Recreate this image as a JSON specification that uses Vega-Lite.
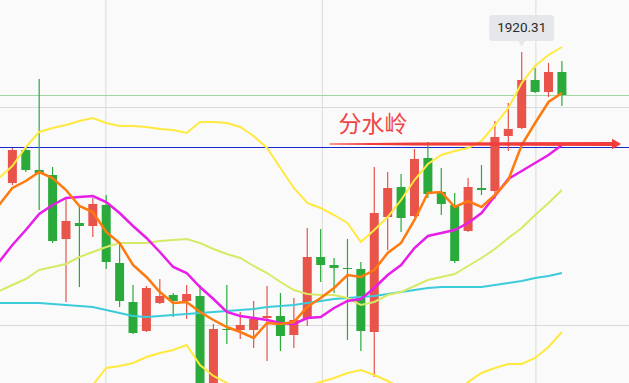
{
  "$schema": "https://vega.github.io/schema/vega-lite/v6.json",
  "width": 629,
  "height": 383,
  "autosize": "none",
  "padding": 0,
  "background": "#fafafa",
  "config": {"view": {"stroke": null}},
  "datasets": {
    "k": [
      {"i": -1, "m5": 1905.01, "m10": 1899.31, "m60": 1895.21, "bu": 1907.71, "bm": 1896.41, "bl": 1885.11},
      {"i": 0, "o": 1907.21, "h": 1910.71, "l": 1907.01, "c": 1910.51, "m5": 1906.71, "m10": 1901.01, "m60": 1895.21, "bu": 1908.91, "bm": 1897.01, "bl": 1885.11},
      {"i": 1, "o": 1910.51, "h": 1910.71, "l": 1908.31, "c": 1908.51, "m5": 1907.41, "m10": 1902.51, "m60": 1895.21, "bu": 1910.81, "bm": 1897.61, "bl": 1884.41},
      {"i": 2, "o": 1908.51, "h": 1917.61, "l": 1904.51, "c": 1908.21, "m5": 1908.31, "m10": 1904.11, "m60": 1895.21, "bu": 1912.31, "bm": 1898.51, "bl": 1884.71},
      {"i": 3, "o": 1908.01, "h": 1908.81, "l": 1901.21, "c": 1901.41, "m5": 1907.71, "m10": 1905.01, "m60": 1895.11, "bu": 1912.71, "bm": 1898.81, "bl": 1884.91},
      {"i": 4, "o": 1901.61, "h": 1905.61, "l": 1895.31, "c": 1903.41, "m5": 1906.51, "m10": 1905.71, "m60": 1895.01, "bu": 1913.01, "bm": 1899.11, "bl": 1885.21},
      {"i": 5, "o": 1903.21, "h": 1904.81, "l": 1896.81, "c": 1902.91, "m5": 1904.91, "m10": 1905.81, "m60": 1894.91, "bu": 1913.41, "bm": 1899.81, "bl": 1886.21},
      {"i": 6, "o": 1902.91, "h": 1905.71, "l": 1901.81, "c": 1905.11, "m5": 1904.31, "m10": 1905.91, "m60": 1894.81, "bu": 1913.71, "bm": 1900.31, "bl": 1887.01},
      {"i": 7, "o": 1905.01, "h": 1906.01, "l": 1898.61, "c": 1899.31, "m5": 1902.31, "m10": 1905.31, "m60": 1894.51, "bu": 1913.21, "bm": 1900.81, "bl": 1888.71},
      {"i": 8, "o": 1899.21, "h": 1901.21, "l": 1894.81, "c": 1895.41, "m5": 1901.21, "m10": 1904.21, "m60": 1894.21, "bu": 1912.91, "bm": 1901.21, "bl": 1888.91},
      {"i": 9, "o": 1895.31, "h": 1897.01, "l": 1892.11, "c": 1892.21, "m5": 1899.01, "m10": 1902.91, "m60": 1893.91, "bu": 1912.91, "bm": 1901.21, "bl": 1889.21},
      {"i": 10, "o": 1892.41, "h": 1896.91, "l": 1892.31, "c": 1896.71, "m5": 1897.81, "m10": 1901.71, "m60": 1893.81, "bu": 1912.81, "bm": 1901.21, "bl": 1889.81},
      {"i": 11, "o": 1895.21, "h": 1897.61, "l": 1895.11, "c": 1895.91, "m5": 1896.31, "m10": 1900.31, "m60": 1893.91, "bu": 1912.61, "bm": 1901.41, "bl": 1890.21},
      {"i": 12, "o": 1896.01, "h": 1896.21, "l": 1893.81, "c": 1895.41, "m5": 1895.21, "m10": 1898.81, "m60": 1894.01, "bu": 1912.51, "bm": 1901.51, "bl": 1890.51},
      {"i": 13, "o": 1895.41, "h": 1897.01, "l": 1893.61, "c": 1896.11, "m5": 1895.31, "m10": 1898.21, "m60": 1894.11, "bu": 1912.21, "bm": 1901.61, "bl": 1891.01},
      {"i": 14, "o": 1895.91, "h": 1897.01, "l": 1885.71, "c": 1886.31, "m5": 1894.31, "m10": 1896.81, "m60": 1894.21, "bu": 1913.31, "bm": 1901.21, "bl": 1889.01},
      {"i": 15, "o": 1886.01, "h": 1893.11, "l": 1885.51, "c": 1892.61, "m5": 1893.51, "m10": 1895.61, "m60": 1894.31, "bu": 1913.31, "bm": 1900.61, "bl": 1887.91},
      {"i": 16, "o": 1892.61, "h": 1897.01, "l": 1891.11, "c": 1892.51, "m5": 1892.81, "m10": 1894.31, "m60": 1894.41, "bu": 1913.21, "bm": 1900.11, "bl": 1887.21},
      {"i": 17, "o": 1892.51, "h": 1894.31, "l": 1891.61, "c": 1893.01, "m5": 1892.31, "m10": 1893.91, "m60": 1894.51, "bu": 1912.81, "bm": 1899.71, "bl": 1886.61},
      {"i": 18, "o": 1892.51, "h": 1895.41, "l": 1890.71, "c": 1893.61, "m5": 1891.71, "m10": 1893.71, "m60": 1894.61, "bu": 1911.91, "bm": 1898.91, "bl": 1885.91},
      {"i": 19, "o": 1893.71, "h": 1896.91, "l": 1889.41, "c": 1893.91, "m5": 1893.21, "m10": 1893.51, "m60": 1894.81, "bu": 1910.71, "bm": 1898.21, "bl": 1885.71},
      {"i": 20, "o": 1893.91, "h": 1896.21, "l": 1890.41, "c": 1891.91, "m5": 1893.11, "m10": 1893.21, "m60": 1894.91, "bu": 1908.71, "bm": 1897.31, "bl": 1885.91},
      {"i": 21, "o": 1892.01, "h": 1895.71, "l": 1890.71, "c": 1893.51, "m5": 1893.31, "m10": 1893.11, "m60": 1895.01, "bu": 1906.71, "bm": 1896.51, "bl": 1886.31},
      {"i": 22, "o": 1893.61, "h": 1902.71, "l": 1892.91, "c": 1899.81, "m5": 1894.81, "m10": 1893.71, "m60": 1895.21, "bu": 1905.21, "bm": 1896.11, "bl": 1886.91},
      {"i": 23, "o": 1899.81, "h": 1902.61, "l": 1897.31, "c": 1899.01, "m5": 1895.71, "m10": 1893.81, "m60": 1895.41, "bu": 1904.71, "bm": 1896.01, "bl": 1887.31},
      {"i": 24, "o": 1899.01, "h": 1899.71, "l": 1896.21, "c": 1898.71, "m5": 1896.71, "m10": 1894.71, "m60": 1895.61, "bu": 1904.01, "bm": 1896.01, "bl": 1887.71},
      {"i": 25, "o": 1898.71, "h": 1901.61, "l": 1891.51, "c": 1898.61, "m5": 1898.01, "m10": 1895.41, "m60": 1895.71, "bu": 1903.21, "bm": 1895.71, "bl": 1888.21},
      {"i": 26, "o": 1898.61, "h": 1899.31, "l": 1890.41, "c": 1892.41, "m5": 1897.81, "m10": 1895.61, "m60": 1895.81, "bu": 1901.31, "bm": 1895.01, "bl": 1888.51},
      {"i": 27, "o": 1892.31, "h": 1908.81, "l": 1887.81, "c": 1904.21, "m5": 1898.51, "m10": 1896.71, "m60": 1895.91, "bu": 1902.51, "bm": 1895.31, "bl": 1888.01},
      {"i": 28, "o": 1903.81, "h": 1908.31, "l": 1900.51, "c": 1906.71, "m5": 1900.21, "m10": 1898.01, "m60": 1896.11, "bu": 1903.81, "bm": 1896.01, "bl": 1887.41},
      {"i": 29, "o": 1906.81, "h": 1908.11, "l": 1902.31, "c": 1903.71, "m5": 1901.21, "m10": 1899.01, "m60": 1896.31, "bu": 1905.51, "bm": 1896.31, "bl": 1886.71},
      {"i": 30, "o": 1903.91, "h": 1910.61, "l": 1903.81, "c": 1909.61, "m5": 1903.51, "m10": 1900.71, "m60": 1896.51, "bu": 1907.51, "bm": 1896.91, "bl": 1886.21},
      {"i": 31, "o": 1909.71, "h": 1911.31, "l": 1905.71, "c": 1906.11, "m5": 1906.21, "m10": 1901.91, "m60": 1896.71, "bu": 1909.11, "bm": 1897.51, "bl": 1885.91},
      {"i": 32, "o": 1906.31, "h": 1908.71, "l": 1904.01, "c": 1905.11, "m5": 1906.31, "m10": 1902.21, "m60": 1896.81, "bu": 1910.01, "bm": 1897.81, "bl": 1885.71},
      {"i": 33, "o": 1905.01, "h": 1906.21, "l": 1899.21, "c": 1899.41, "m5": 1904.81, "m10": 1902.51, "m60": 1896.81, "bu": 1910.41, "bm": 1898.11, "bl": 1886.01},
      {"i": 34, "o": 1902.41, "h": 1907.71, "l": 1902.31, "c": 1906.81, "m5": 1905.41, "m10": 1903.21, "m60": 1896.81, "bu": 1910.71, "bm": 1898.91, "bl": 1887.31},
      {"i": 35, "o": 1906.71, "h": 1909.01, "l": 1906.01, "c": 1906.51, "m5": 1904.81, "m10": 1904.21, "m60": 1896.81, "bu": 1911.41, "bm": 1899.71, "bl": 1888.21},
      {"i": 36, "o": 1906.41, "h": 1913.41, "l": 1905.61, "c": 1911.81, "m5": 1906.01, "m10": 1905.91, "m60": 1897.01, "bu": 1913.01, "bm": 1900.61, "bl": 1888.71},
      {"i": 37, "o": 1911.91, "h": 1915.21, "l": 1910.41, "c": 1912.61, "m5": 1907.51, "m10": 1907.61, "m60": 1897.21, "bu": 1914.71, "bm": 1901.71, "bl": 1889.11},
      {"i": 38, "o": 1912.71, "h": 1920.31, "l": 1912.61, "c": 1917.51, "m5": 1911.01, "m10": 1908.41, "m60": 1897.41, "bu": 1917.21, "bm": 1902.71, "bl": 1889.11},
      {"i": 39, "o": 1917.51, "h": 1918.71, "l": 1916.21, "c": 1916.31, "m5": 1913.21, "m10": 1909.21, "m60": 1897.71, "bu": 1918.91, "bm": 1904.01, "bl": 1889.71},
      {"i": 40, "o": 1916.31, "h": 1919.21, "l": 1915.81, "c": 1918.31, "m5": 1915.31, "m10": 1910.01, "m60": 1897.91, "bu": 1920.01, "bm": 1905.21, "bl": 1890.81},
      {"i": 41, "o": 1918.31, "h": 1919.41, "l": 1914.91, "c": 1916.01, "m5": 1916.21, "m10": 1911.01, "m60": 1898.21, "bu": 1920.81, "bm": 1906.51, "bl": 1892.31}
    ]
  },
  "layer": [
    {
      "data": {"values": [{"p": 1914.76}, {"p": 1892.96}]},
      "mark": {"type": "rule", "color": "#dadada", "strokeWidth": 1},
      "encoding": {"y": {"field": "p", "type": "quantitative", "axis": null, "scale": {"domain": [1887.21, 1925.51], "nice": false, "zero": false}}}
    },
    {
      "data": {"values": [{"x": 6.975}, {"x": 23.128}, {"x": 39.06}]},
      "mark": {"type": "rule", "color": "#dadada", "strokeWidth": 1},
      "encoding": {"x": {"field": "x", "type": "quantitative", "axis": null, "scale": {"domain": [-0.5507, 45.632], "nice": false, "zero": false}}}
    },
    {
      "data": {"values": [{"p": 1915.96}]},
      "mark": {"type": "rule", "color": "#9fd6a3", "strokeWidth": 1},
      "encoding": {"y": {"field": "p", "type": "quantitative", "axis": null}}
    },
    {
      "data": {"values": [{"p": 1910.76}]},
      "mark": {"type": "rule", "color": "#1428cc", "strokeWidth": 1.2},
      "encoding": {"y": {"field": "p", "type": "quantitative", "axis": null}}
    },
    {
      "data": {"name": "k"},
      "transform": [{"filter": "isValid(datum.o)"}],
      "mark": {"type": "rule", "strokeWidth": 1.2},
      "encoding": {
        "x": {"field": "i", "type": "quantitative", "axis": null},
        "y": {"field": "l", "type": "quantitative", "axis": null},
        "y2": {"field": "h"},
        "color": {"condition": {"test": "datum.c >= datum.o", "value": "#e8534a"}, "value": "#2aaa3a"}
      }
    },
    {
      "data": {"name": "k"},
      "transform": [{"filter": "isValid(datum.o)"}],
      "mark": {"type": "bar", "size": 9, "clip": true},
      "encoding": {
        "x": {"field": "i", "type": "quantitative", "axis": null},
        "y": {"field": "o", "type": "quantitative", "axis": null},
        "y2": {"field": "c"},
        "color": {"condition": {"test": "datum.c >= datum.o", "value": "#e8534a"}, "value": "#2aaa3a"}
      }
    },
    {
      "data": {"name": "k"},
      "mark": {"type": "line", "color": "#3ccbdb", "strokeWidth": 2, "clip": true},
      "encoding": {"x": {"field": "i", "type": "quantitative", "axis": null}, "y": {"field": "m60", "type": "quantitative", "axis": null}}
    },
    {
      "data": {"name": "k"},
      "mark": {"type": "line", "color": "#d6ea66", "strokeWidth": 2, "clip": true},
      "encoding": {"x": {"field": "i", "type": "quantitative", "axis": null}, "y": {"field": "bm", "type": "quantitative", "axis": null}}
    },
    {
      "data": {"name": "k"},
      "mark": {"type": "line", "color": "#ffe93f", "strokeWidth": 2, "clip": true},
      "encoding": {"x": {"field": "i", "type": "quantitative", "axis": null}, "y": {"field": "bu", "type": "quantitative", "axis": null}}
    },
    {
      "data": {"name": "k"},
      "mark": {"type": "line", "color": "#ffe93f", "strokeWidth": 2, "clip": true},
      "encoding": {"x": {"field": "i", "type": "quantitative", "axis": null}, "y": {"field": "bl", "type": "quantitative", "axis": null}}
    },
    {
      "data": {"name": "k"},
      "mark": {"type": "line", "color": "#e81de8", "strokeWidth": 2.5, "clip": true},
      "encoding": {"x": {"field": "i", "type": "quantitative", "axis": null}, "y": {"field": "m10", "type": "quantitative", "axis": null}}
    },
    {
      "data": {"name": "k"},
      "mark": {"type": "line", "color": "#ff7a0e", "strokeWidth": 2.5, "clip": true},
      "encoding": {"x": {"field": "i", "type": "quantitative", "axis": null}, "y": {"field": "m5", "type": "quantitative", "axis": null}}
    },
    {
      "data": {"values": [{"x": 23.68, "p": 1911.11, "w": 0.8}, {"x": 30.0, "p": 1911.11, "w": 3}, {"x": 44.85, "p": 1911.11, "w": 4}]},
      "mark": {"type": "trail", "color": "#f23c3c"},
      "encoding": {
        "x": {"field": "x", "type": "quantitative", "axis": null},
        "y": {"field": "p", "type": "quantitative", "axis": null},
        "size": {"field": "w", "type": "quantitative", "scale": null, "legend": null}
      }
    },
    {
      "data": {"values": [{"x": 45.08, "p": 1911.11}]},
      "mark": {"type": "point", "shape": "triangle-right", "filled": true, "size": 110, "color": "#f23c3c", "opacity": 1},
      "encoding": {
        "x": {"field": "x", "type": "quantitative", "axis": null},
        "y": {"field": "p", "type": "quantitative", "axis": null}
      }
    },
    {
      "data": {"values": [{"x": 26.91, "p": 1913.01, "t": "分水岭"}]},
      "mark": {"type": "text", "font": "Noto Sans CJK SC", "fontSize": 23, "color": "#ef4444", "baseline": "middle", "align": "center"},
      "encoding": {
        "x": {"field": "x", "type": "quantitative", "axis": null},
        "y": {"field": "p", "type": "quantitative", "axis": null},
        "text": {"field": "t"}
      }
    },
    {
      "data": {"values": [{"x1": 35.57, "x2": 40.42, "p1": 1924.01, "p2": 1921.41}]},
      "mark": {"type": "rect", "color": "#e5e7ea", "cornerRadius": 3},
      "encoding": {
        "x": {"field": "x1", "type": "quantitative", "axis": null},
        "x2": {"field": "x2"},
        "y": {"field": "p1", "type": "quantitative", "axis": null},
        "y2": {"field": "p2"}
      }
    },
    {
      "data": {"values": [{"x": 38.0, "p": 1921.2}]},
      "mark": {"type": "point", "shape": "triangle-down", "filled": true, "size": 70, "color": "#e5e7ea", "opacity": 1},
      "encoding": {
        "x": {"field": "x", "type": "quantitative", "axis": null},
        "y": {"field": "p", "type": "quantitative", "axis": null}
      }
    },
    {
      "data": {"values": [{"x": 38.0, "p": 1922.71, "t": "1920.31"}]},
      "mark": {"type": "text", "font": "Roboto", "fontSize": 13.5, "color": "#2a2a2a", "baseline": "middle", "align": "center"},
      "encoding": {
        "x": {"field": "x", "type": "quantitative", "axis": null},
        "y": {"field": "p", "type": "quantitative", "axis": null},
        "text": {"field": "t"}
      }
    }
  ]
}
